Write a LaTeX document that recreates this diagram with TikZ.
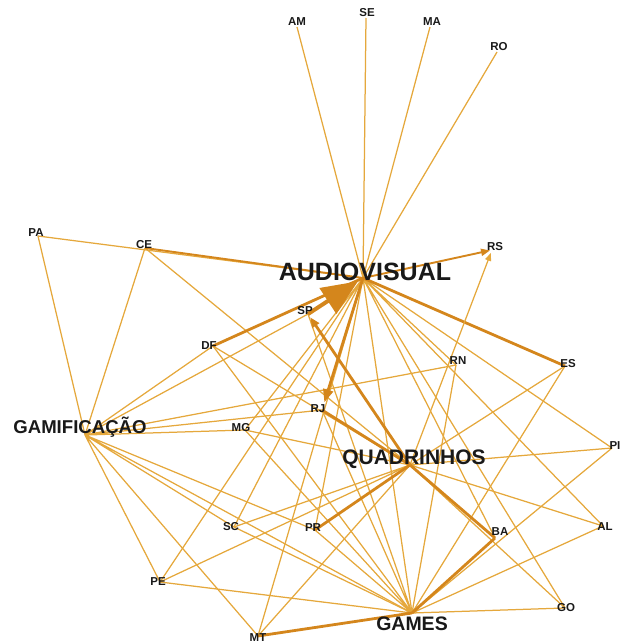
\documentclass[tikz,border=0pt]{standalone}
\usepackage{fontspec}
\setmainfont{Liberation Sans}
\usetikzlibrary{arrows.meta}
\definecolor{edgethin}{RGB}{229,168,60}
\definecolor{edgethick}{RGB}{212,134,28}
\definecolor{labelink}{RGB}{25,25,25}
\begin{document}
\begin{tikzpicture}[x=1pt, y=-1pt,
	edge/.style={draw=edgethin, line width=1.25pt},
	medium/.style={draw=edgethick, line width=1.9pt},
	heavy/.style={draw=edgethick, line width=2.8pt},
	state/.style={font=\bfseries\fontsize{11.5}{11.5}\selectfont, text=labelink, inner sep=0pt},
	hub/.style={font=\bfseries, text=labelink, inner sep=0pt}]
	\useasboundingbox (0,0) rectangle (620,643);

	\coordinate (AM)    at (297,27);
	\coordinate (SE)    at (366,18);
	\coordinate (MA)    at (430,27);
	\coordinate (RO)    at (497,52);
	\coordinate (PA)    at (38,236);
	\coordinate (CE)    at (145,248);
	\coordinate (RS)    at (492,250);
	\coordinate (AV)    at (363,278);
	\coordinate (SP)    at (308,314);
	\coordinate (DF)    at (213,346);
	\coordinate (RN)    at (456,365);
	\coordinate (ES)    at (565,366);
	\coordinate (GAM)   at (85,435);
	\coordinate (MG)    at (245,430);
	\coordinate (RJ)    at (322,410);
	\coordinate (QUA)   at (410,465);
	\coordinate (PI)    at (612,448);
	\coordinate (SC)    at (234,527);
	\coordinate (PR)    at (315,530);
	\coordinate (BA)    at (495,538);
	\coordinate (AL)    at (603,526);
	\coordinate (PE)    at (160,582);
	\coordinate (GO)    at (565,608);
	\coordinate (GAMES) at (412,613);
	\coordinate (MT)    at (258,636);

	\draw[edge] (AV) -- (AM) (AV) -- (SE) (AV) -- (MA) (AV) -- (RO) (AV) -- (PA)
		(AV) -- (MG) (AV) -- (SC) (AV) -- (PR) (AV) -- (PE) (AV) -- (MT) (AV) -- (RN)
		(AV) -- (PI) (AV) -- (AL) (AV) -- (BA) (AV) -- (GO) (AV) -- (GAMES);
	\draw[edge] (GAM) -- (PA) (GAM) -- (CE) (GAM) -- (DF) (GAM) -- (SP) (GAM) -- (RN)
		(GAM) -- (RJ) (GAM) -- (MG) (GAM) -- (PR) (GAM) -- (SC) (GAM) -- (PE)
		(GAM) -- (MT) (GAM) -- (GAMES);
	\draw[edge] (QUA) -- (CE) (QUA) -- (DF) (QUA) -- (MG) (QUA) -- (ES) (QUA) -- (PI)
		(QUA) -- (AL) (QUA) -- (GO) (QUA) -- (SC) (QUA) -- (PE) (QUA) -- (MT);
	\draw[edge] (GAMES) -- (PE) (GAMES) -- (SC) (GAMES) -- (PR) (GAMES) -- (DF)
		(GAMES) -- (MG) (GAMES) -- (RJ) (GAMES) -- (SP) (GAMES) -- (RN) (GAMES) -- (ES)
		(GAMES) -- (PI) (GAMES) -- (AL) (GAMES) -- (GO);
	\draw[medium] (AV) -- (CE);
	\draw[heavy] (AV) -- (DF) (AV) -- (ES) (QUA) -- (RJ) (QUA) -- (PR) (QUA) -- (BA)
		(GAMES) -- (MT) (GAMES) -- (BA);
	\draw[medium, -{Triangle[length=9pt,width=7pt]}, shorten >=2pt] (AV) -- (RS);
	\draw[edge, -{Triangle[length=8pt,width=6pt]}, shorten >=3pt] (QUA) -- (RS);
	\draw[heavy, -{Triangle[length=13pt,width=10pt]}, shorten >=8pt] (AV) -- (RJ);
	\draw[heavy, -{Triangle[length=10pt,width=8pt]}, shorten >=4pt] (QUA) -- (SP);
	\draw[heavy, line width=4pt, -{Triangle[length=36pt,width=30pt]}, shorten >=6pt] (SP) -- (AV);

	\node[state] (AMlabel) at (297,22)  {AM};
	\node[state] (SElabel) at (367,13)  {SE};
	\node[state] (MAlabel) at (432,22)  {MA};
	\node[state] (ROlabel) at (499,47)  {RO};
	\node[state] (PAlabel) at (36,233)  {PA};
	\node[state] (CElabel) at (144,245) {CE};
	\node[state] (RSlabel) at (495,247) {RS};
	\node[state] (SPlabel) at (305,311) {SP};
	\node[state] (DFlabel) at (209,346) {DF};
	\node[state] (RNlabel) at (458,361) {RN};
	\node[state] (ESlabel) at (568,364) {ES};
	\node[state] (MGlabel) at (241,428) {MG};
	\node[state] (RJlabel) at (318,409) {RJ};
	\node[state] (PIlabel) at (615,446) {PI};
	\node[state] (SClabel) at (231,527) {SC};
	\node[state] (PRlabel) at (313,528) {PR};
	\node[state] (BAlabel) at (500,532) {BA};
	\node[state] (ALlabel) at (605,527) {AL};
	\node[state] (PElabel) at (158,582) {PE};
	\node[state] (GOlabel) at (566,608) {GO};
	\node[state] (MTlabel) at (258,638) {MT};
	\node[hub, font=\bfseries\fontsize{25}{25}\selectfont] (AVlabel) at (365,272) {AUDIOVISUAL};
	\node[hub, font=\bfseries\fontsize{18.6}{18.6}\selectfont] (GAMlabel) at (80,427) {GAMIFICAÇÃO};
	\node[hub, font=\bfseries\fontsize{21}{21}\selectfont] (QUAlabel) at (414,459) {QUADRINHOS};
	\node[hub, font=\bfseries\fontsize{19.5}{19.5}\selectfont] (GAMESlabel) at (412,624) {GAMES};
\end{tikzpicture}
\end{document}
